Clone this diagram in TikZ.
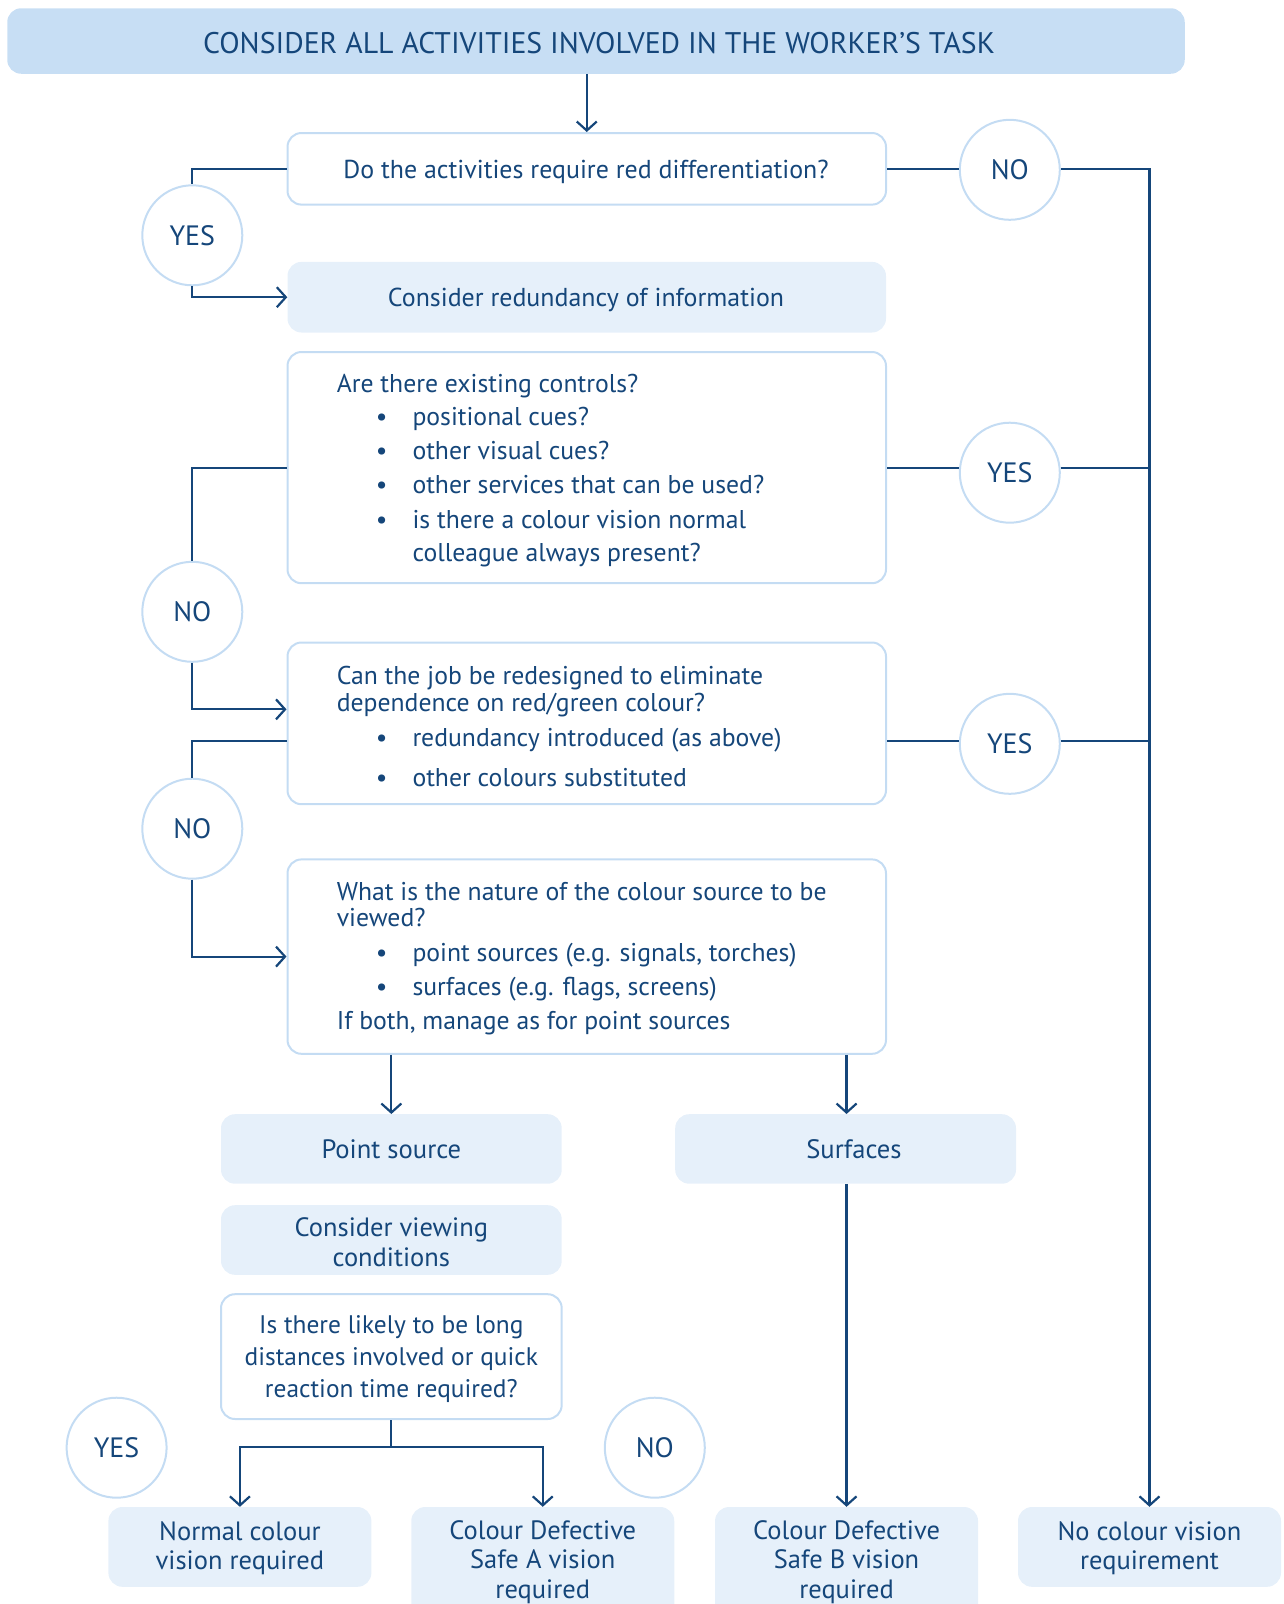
\documentclass[tikz,border=0pt]{standalone}
\usepackage{fontspec}
\setmainfont{PT Sans}
\usetikzlibrary{arrows.meta}
\definecolor{dkblue}{HTML}{15467A}
\definecolor{bannerfill}{HTML}{C7DEF4}
\definecolor{lightfill}{HTML}{E6F0FA}
\definecolor{edgeblue}{HTML}{C4DCF3}
\begin{document}
\begin{tikzpicture}[x=1pt,y=-1pt,
  txt/.style={font=\fontsize{25.7}{30}\selectfont, text=dkblue, inner sep=0pt},
  ln/.style={txt, anchor=mid west},
  bul/.style={txt, anchor=mid},
  ctr/.style={txt, align=center, font=\fontsize{26.5}{29.5}\selectfont},
  fbox/.style={fill=lightfill, draw=none, rounded corners=14pt, inner sep=0pt},
  wbox/.style={fill=white, draw=edgeblue, line width=2pt, rounded corners=14pt, inner sep=0pt},
  circ/.style={circle, draw=edgeblue, fill=white, line width=2pt, minimum size=100pt, inner sep=0pt, txt, font=\fontsize{28}{30}\selectfont},
  conn/.style={draw=dkblue, line width=2.2pt},
  arr/.style={conn, -{Straight Barb[length=9pt,width=20pt]}}
]
\useasboundingbox (0,0) rectangle (1283,1604);
\clip (0,0) rectangle (1283,1604);

% banner
\node[fill=bannerfill, rounded corners=14pt, minimum width=1177.5pt, minimum height=65.5pt, inner sep=0pt] (banner) at (596,41) {};
\node[txt, font=\fontsize{29.8}{32}\selectfont, anchor=mid] (bannertxt) at (599,51) {CONSIDER ALL ACTIVITIES INVOLVED IN THE WORKER’S TASK};

% question 1
\node[wbox, minimum width=598.5pt, minimum height=71.6pt] (q1) at (586.75,168.8) {};
\node[txt, anchor=mid, font=\fontsize{25.9}{30}\selectfont] (q1txt) at (586,176) {Do the activities require red differentiation?};

% redundancy
\node[fbox, minimum width=598.5pt, minimum height=70.6pt] (b2) at (586.75,297.2) {};
\node[txt, anchor=mid, font=\fontsize{25.9}{30}\selectfont] (b2txt) at (586,304) {Consider redundancy of information};

% existing controls
\node[wbox, minimum width=598.5pt, minimum height=231.2pt] (b3) at (586.75,467.6) {};
\node[ln] (b3l1) at (336.6,389.7) {Are there existing controls?};
\node[bul] (b3b1) at (381.6,423.4) {•};
\node[ln] (b3l2) at (412.3,423.4) {positional cues?};
\node[bul] (b3b2) at (381.6,457.2) {•};
\node[ln] (b3l3) at (412.3,457.2) {other visual cues?};
\node[bul] (b3b3) at (381.6,491) {•};
\node[ln] (b3l4) at (412.3,491) {other services that can be used?};
\node[bul] (b3b4) at (381.6,525.7) {•};
\node[ln] (b3l5) at (412.3,525.7) {is there a colour vision normal};
\node[ln] (b3l6) at (412.3,558.5) {colleague always present?};

% redesign
\node[wbox, minimum width=598.5pt, minimum height=161.7pt] (b4) at (586.75,723.35) {};
\node[ln] (b4l1) at (336.6,682.3) {Can the job be redesigned to eliminate};
\node[ln] (b4l2) at (336.6,708.9) {dependence on red/green colour?};
\node[bul] (b4b1) at (381.6,743.7) {•};
\node[ln] (b4l3) at (412.3,743.7) {redundancy introduced (as above)};
\node[bul] (b4b2) at (381.6,783.6) {•};
\node[ln] (b4l4) at (412.3,783.6) {other colours substituted};

% nature of source
\node[wbox, minimum width=598.5pt, minimum height=194.4pt] (b5) at (586.75,956.6) {};
\node[ln] (b5l1) at (336.6,898.1) {What is the nature of the colour source to be};
\node[ln] (b5l2) at (336.6,923.7) {viewed?};
\node[bul] (b5b1) at (381.6,958.5) {•};
\node[ln] (b5l3) at (412.3,958.5) {point sources (e.g. signals, torches)};
\node[bul] (b5b2) at (381.6,993.3) {•};
\node[ln] (b5l4) at (412.3,993.3) {surfaces (e.g. flags, screens)};
\node[ln] (b5l5) at (336.6,1027) {If both, manage as for point sources};

% point source / surfaces
\node[fbox, minimum width=340.7pt, minimum height=69.5pt] (ps) at (391.35,1148.95) {};
\node[txt, anchor=mid, font=\fontsize{26.6}{30}\selectfont] (pstxt) at (391.35,1156) {Point source};
\node[fbox, minimum width=340.8pt, minimum height=69.5pt] (surf) at (845.6,1148.95) {};
\node[txt, anchor=mid, font=\fontsize{26.6}{30}\selectfont] (surftxt) at (854,1156) {Surfaces};

\node[fbox, minimum width=340.7pt, minimum height=69.6pt] (cvc) at (391.35,1240) {};
\node[ctr] (cvctxt) at (391.35,1242) {Consider viewing\\conditions};

\node[wbox, minimum width=340.7pt, minimum height=124.8pt] (qd) at (391.35,1356.6) {};
\node[ctr, font=\fontsize{25.4}{32}\selectfont] (qdtxt) at (391.35,1359) {Is there likely to be long\\distances involved or quick\\reaction time required?};

% outcomes
\node[fbox, minimum width=263pt, minimum height=79.8pt] (ncr) at (239.9,1546.9) {};
\node[ctr] (ncrtxt) at (239.9,1548) {Normal colour\\vision required};
\node[fbox, minimum width=263pt, minimum height=113pt] (safeA) at (542.75,1563.5) {};
\node[ctr] (safeAtxt) at (542.75,1562) {Colour Defective\\Safe A vision\\required};
\node[fbox, minimum width=263pt, minimum height=113pt] (safeB) at (846.55,1563.5) {};
\node[ctr] (safeBtxt) at (846.55,1562) {Colour Defective\\Safe B vision\\required};
\node[fbox, minimum width=263pt, minimum height=79.8pt] (ncv) at (1149.5,1546.9) {};
\node[ctr] (ncvtxt) at (1149.5,1548) {No colour vision\\requirement};

% circles
\node[circ] (yes1) at (192.3,235.3) {YES};
\node[circ] (no1) at (1009.8,169.8) {NO};
\node[circ] (yes2) at (1009.8,472.7) {YES};
\node[circ] (no2) at (192.3,611.8) {NO};
\node[circ] (yes3) at (1009.8,743.8) {YES};
\node[circ] (no3) at (192.3,828.7) {NO};
\node[circ] (yes4) at (116.6,1447.7) {YES};
\node[circ] (no4) at (654.8,1447.7) {NO};

% connectors
\draw[arr] (q1.north |- banner.south) -- (q1.north);
\draw[conn] (q1.west) -| (yes1.north);
\draw[arr] (yes1.south) |- (b2.west);
\draw[conn] (q1.east) -- (q1.east -| no1.west);
\draw[arr] (no1.east |- q1.east) -| (ncv.north);
\draw[conn] (b3.east) -- (b3.east -| yes2.west);
\draw[conn] (yes2.east |- b3.east) -- (b3.east -| ncv.north);
\draw[conn] (b3.west) -| (no2.north);
\draw[arr] (no2.south) |- ([yshift=14pt]b4.west);
\draw[conn] ([yshift=-18pt]b4.east) -- ([yshift=-18pt]b4.east -| yes3.west);
\draw[conn] ([yshift=-18pt]b4.east -| yes3.east) -- ([yshift=-18pt]b4.east -| ncv.north);
\draw[conn] ([yshift=-18pt]b4.west) -| (no3.north);
\draw[arr] (no3.south) |- (b5.west);
\draw[arr] (b5.south -| ps.north) -- (ps.north);
\draw[arr] (b5.south -| safeB.north) -- (surf.north -| safeB.north);
\draw[arr] (surf.south -| safeB.north) -- (safeB.north);
\coordinate (split) at ([yshift=-26.6pt]qd.south);
\draw[conn] (qd.south) -- (split);
\draw[arr] (split) -| (ncr.north);
\draw[arr] (split) -| (safeA.north);
\end{tikzpicture}
\end{document}
